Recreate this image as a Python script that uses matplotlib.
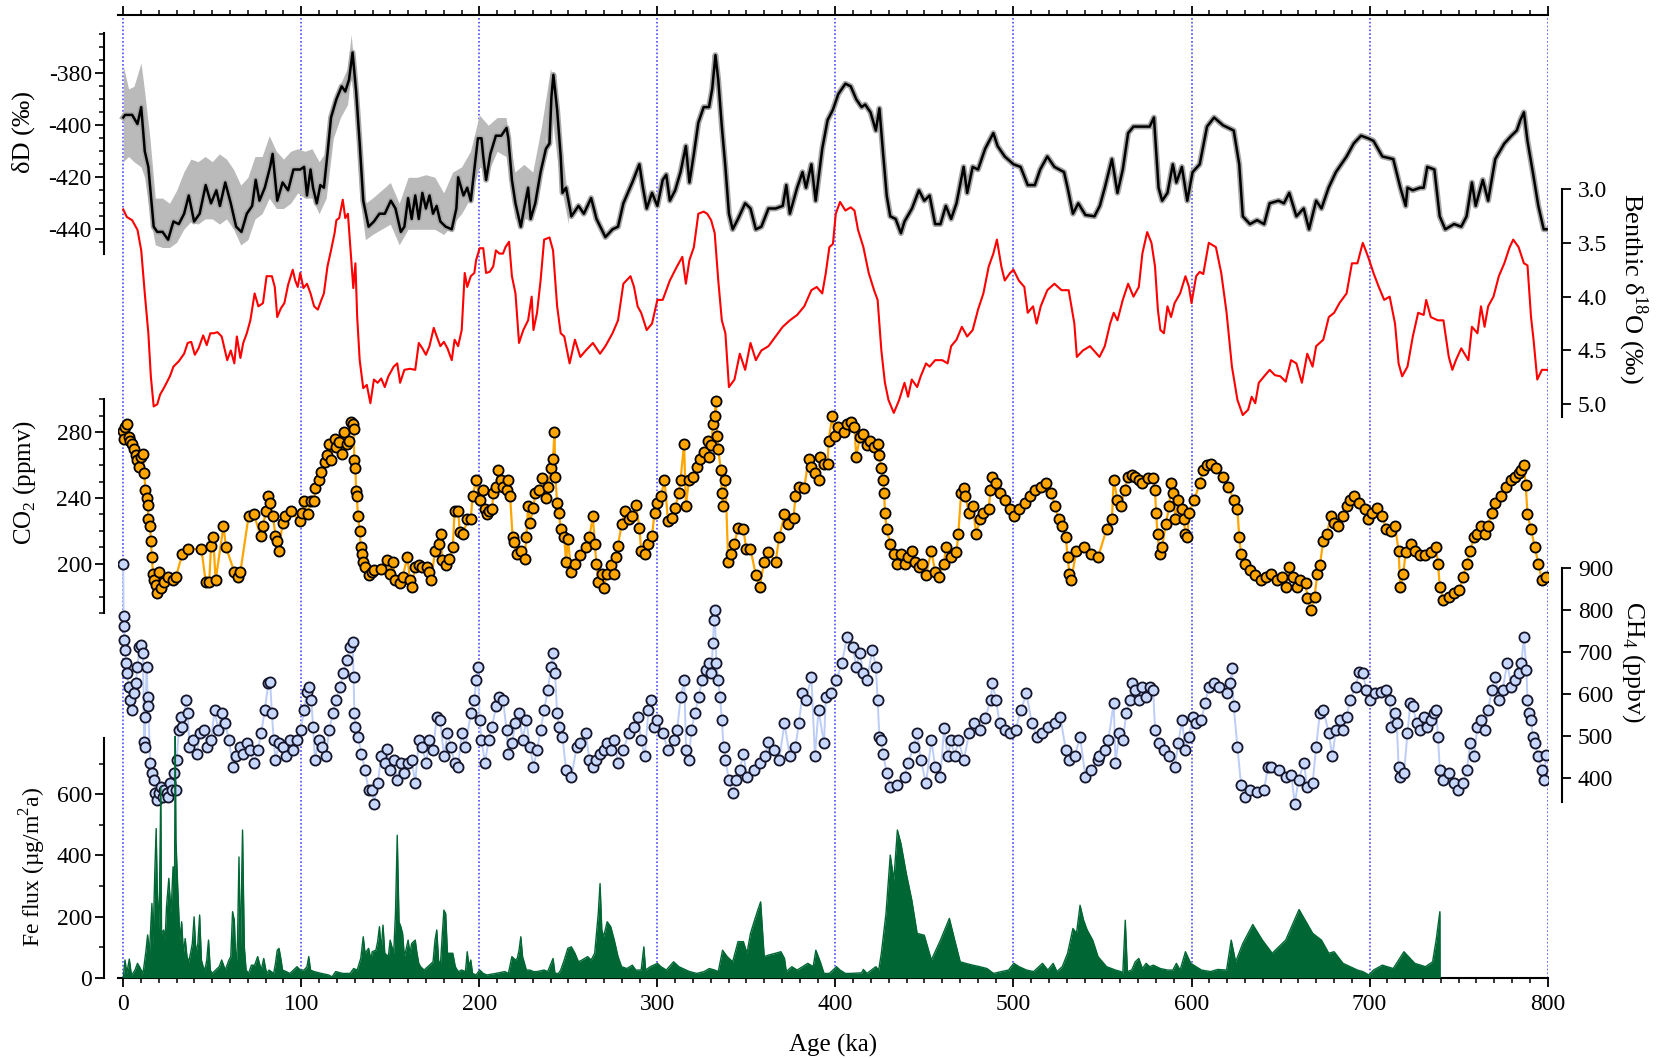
import numpy as np
import matplotlib.pyplot as plt

plt.rcParams['font.family'] = ['Liberation Serif', 'DejaVu Serif']
plt.rcParams['mathtext.fontset'] = 'custom'
plt.rcParams['mathtext.rm'] = 'Liberation Serif'
plt.rcParams['axes.unicode_minus'] = False

# ---- data (age in ka) ----
dD_smooth = [(0,-397),(1,-396),(5,-396),(8,-399.5),(10.1,-393),(12.1,-410),(14.1,-416),(17.1,-439),(19.1,-441),
    (22.1,-441),(25.2,-444),(28.2,-437),(31.2,-438),(34.2,-434),(36.8,-427),(39.8,-437),(42.9,-434),(46.3,-423),
    (49.3,-430),(52.3,-425),(54.3,-431),(57.3,-422),(60.4,-430),(63.4,-439),(66.4,-441),(69.4,-434),(72.4,-431),
    (74.4,-421),(76.5,-429),(79.5,-424),(82.5,-416),(83.9,-411),(86.5,-429),(89.5,-422),(92.6,-425),(95.6,-417),
    (99.4,-417),(101.6,-416),(103.2,-427),(105.2,-417),(106.6,-424),(108.7,-430),(110.7,-423),(112.7,-424),
    (114.7,-411),(116.7,-397),(119.7,-390),(122.7,-385),(124.7,-387),(126.8,-382.5),(128.8,-372),(130.8,-387),
    (132.8,-407),(134.8,-429),(137.8,-439),(140.8,-437),(143.9,-434),(146.9,-434),(150.3,-429),(152.9,-432),
    (155.9,-441),(157.9,-439),(160,-428),(162,-436),(164,-427),(166,-436),(168,-426),(170,-432),(172,-427),
    (174,-434),(176,-431),(178.1,-437),(181.1,-439),(184.5,-440),(187.1,-432),(188.1,-420),(191.1,-427),
    (193.2,-424),(195.2,-429),(197.2,-417),(199.2,-405),(201.2,-405),(202.2,-412),(203.8,-421),(206.2,-411),
    (209.3,-404),(212.3,-404),(214.3,-402),(215.3,-401),(216.3,-405),(218.3,-421),(220.3,-430),(223.3,-439),
    (225.4,-431),(227.4,-424),(228.8,-436),(231.4,-430),(234.4,-418),(237.4,-409),(239.4,-407),(240.5,-389),
    (241.6,-380.6),(243.7,-394),(245.7,-412),(246.7,-426),(248.7,-424),(251.7,-435),(255.7,-431),(258.7,-434),
    (262.8,-428),(265.8,-436),(270.8,-443),(274.8,-440),(277.9,-439),(280.9,-430),(285.9,-422),(289.9,-415),
    (291.9,-424),(294,-432),(297,-426),(300,-431),(303,-421),(305,-419),(307,-429),(310,-425),(313,-418),
    (316,-408),(318,-422),(320.5,-411),(323,-399),(326,-393),(329,-393),(330.8,-386),(332.6,-373),(334.2,-382.6),
    (336.2,-400.5),(338.2,-416),(340.2,-434),(342.3,-440),(345.3,-436),(349.3,-430),(352.3,-432),(355.3,-440),
    (358.4,-439),(362.4,-432),(366.4,-432),(370.4,-431),(372.4,-423),(374.4,-434),(378.5,-424),(381.5,-418),
    (383.5,-424),(386.5,-415),(388.9,-429),(392.6,-409),(395.6,-398),(398.6,-394),(401.6,-388),(405.6,-384),
    (408.6,-385),(411.7,-390),(414.7,-393),(416.7,-392),(419.7,-395),(422.7,-402),(424.7,-393.5),(426.8,-411),
    (428.8,-427),(430.8,-435),(433.8,-436),(436.8,-441.5),(438.8,-437),(443,-432),(446.9,-425),(449.9,-429),
    (452.9,-427),(456,-438),(459,-438),(462,-431),(465,-436),(468,-430),(472,-416),(474,-426),(477.1,-416),
    (480.1,-417),(484.1,-409),(488.7,-403),(491.1,-408),(495.1,-412),(500,-415),(504,-416),(508,-423),(512,-423),
    (515,-417),(519,-412),(523,-416),(528.4,-418),(530.4,-424),(533.4,-434),(536.4,-430),(540.4,-434.5),
    (545.5,-435),(548.5,-431),(551.3,-424),(555.3,-413),(558.4,-426),(561.4,-417),(564.4,-403),(567.4,-400.5),
    (572.4,-400.5),(576.5,-400.5),(578.9,-397),(581.5,-424),(583.5,-429),(586.5,-426),(589.5,-415),(591.5,-422),
    (594.6,-416),(597.6,-429),(600.6,-418),(604.6,-415),(608.7,-400.5),(612.7,-397),(617.7,-400),(623.7,-402),
    (626.8,-415),(628.8,-435),(632.8,-438),(636.8,-436.5),(640.8,-438),(643.9,-430),(648.9,-429),(651.9,-430),
    (654.9,-426),(658.9,-435),(663,-432),(666,-440),(670,-429),(673,-432),(677,-424),(681.1,-418),(687.1,-412),
    (691.1,-407),(695.2,-404),(699.2,-405),(702.2,-406),(707.2,-412),(713.3,-413),(717.3,-424),(720.3,-431),
    (721.3,-424),(724.3,-425),(728.4,-424),(730.4,-424),(732.4,-416),(736.4,-417),(739.4,-435),(742.5,-440),
    (747.5,-438),(751.5,-439),(754.5,-435),(757.5,-422),(759.6,-431),(763.6,-421),(766.6,-429),(770.6,-413),
    (775.7,-407),(779.7,-404),(782.7,-402),(784.7,-398),(786.7,-395),(788.7,-406),(791.7,-418),(794.8,-431),
    (797.8,-440),(800,-440)]

# raw dD spread (upper, lower), where it shows beyond the smoothed curve
dD_raw = [(0,-377,-414),(3,-386,-412),(6,-385,-414),(10,-376,-416),(12,-387,-420),(15,-405,-435),(18,-428,-446),
    (22,-428,-447),(26,-430,-447),(30,-425,-445),(34,-418,-440),(38,-413,-437),(42,-414,-438),(46,-412,-436),
    (50,-414,-436),(54,-411,-438),(58,-413,-436),(62,-417,-440),(66,-423,-446),(70,-420,-444),(74,-412,-436),
    (78,-412,-434),(82,-404,-428),(86,-410,-432),(90,-413,-432),(94,-410,-430),(98,-409,-426),(102,-410,-428),
    (106,-409,-428),(110,-414,-434),(114,-410,-428),(118,-392,-405),(122,-384,-397),(126,-378,-392),
    (128,-365,-380),(130,-380,-395),(133,-410,-428),(136,-430,-444),(140,-428,-442),(145,-425,-440),
    (150,-422,-438),(155,-430,-446),(160,-420,-440),(165,-420,-440),(170,-419,-440),(175,-420,-440),
    (180,-426,-442),(185,-418,-438),(190,-416,-434),(195,-410,-428),(200,-396,-416),(205,-400,-418),
    (210,-397,-410),(215,-397,-412),(220,-418,-436),(225,-415,-436),(230,-418,-436),(235,-400,-418),
    (240,-378,-392),(245,-400,-420),(250,-430,-438)]

benthic_d18O = [(0,3.19),(2,3.26),(5,3.29),(8,3.38),(10.1,3.57),(12.1,3.97),(14.1,4.34),(15.5,4.74),(17.1,5.02),
    (19.1,5.0),(20.7,4.91),(23.1,4.84),(26.2,4.74),(28.2,4.65),(31.2,4.60),(34.2,4.53),(36.2,4.43),(38.2,4.42),
    (40.2,4.54),(42.3,4.48),(44.9,4.36),(46.9,4.45),(48.9,4.34),(50.9,4.34),(52.9,4.33),(55.3,4.37),(58.4,4.59),
    (60.4,4.50),(62.4,4.62),(63.8,4.37),(65.8,4.57),(67.4,4.43),(69.4,4.34),(71.4,4.22),(73.8,3.97),(75.9,4.09),
    (78.5,4.06),(80.5,3.81),(83.5,3.81),(85.1,3.91),(86.5,4.19),(88.5,4.11),(90.5,4.06),(92.6,3.89),(95.2,3.75),
    (96.6,3.85),(98,3.91),(99.4,3.78),(101.2,3.92),(103.2,3.88),(105.2,3.97),(107.2,4.09),(109.3,4.12),
    (111.3,4.03),(112.7,3.97),(114.7,3.72),(116.7,3.57),(118.7,3.41),(119.7,3.29),(121.3,3.27),(123.3,3.10),
    (124.7,3.27),(126.2,3.23),(127.8,3.60),(129.2,3.92),(130.4,3.69),(131.4,4.19),(132.8,4.59),(134.8,4.85),
    (136.8,4.82),(138.8,4.99),(140.8,4.77),(142.9,4.80),(144.9,4.76),(146.9,4.84),(148.9,4.74),(151.9,4.65),
    (153.9,4.62),(155.5,4.80),(157.9,4.68),(161,4.67),(164,4.68),(166,4.43),(168,4.48),(170,4.54),(172,4.46),
    (174.4,4.29),(176.1,4.37),(178.1,4.46),(180.1,4.42),(182.1,4.48),(184.5,4.59),(186.1,4.40),(188.1,4.46),
    (190.1,4.31),(191.8,3.78),(193.2,3.91),(195.2,3.81),(197.2,3.78),(198.2,3.66),(200.2,3.55),(202.2,3.55),
    (203.8,3.78),(205.8,3.77),(207.8,3.72),(209.3,3.57),(211.3,3.60),(213.3,3.60),(214.7,3.54),(216.7,3.49),
    (218.3,3.81),(220.3,3.97),(222.3,4.43),(224.7,4.31),(227.4,4.22),(229.4,4.00),(230.4,4.31),(232.4,4.15),
    (234.4,3.85),(236.4,3.47),(239.4,3.45),(241.4,3.57),(243.7,4.09),(245.7,4.34),(247.7,4.37),(250.7,4.62),
    (253.7,4.40),(256.7,4.56),(259.8,4.50),(263.8,4.43),(267.8,4.53),(270.8,4.46),(274.8,4.34),(277.9,4.22),
    (280.9,3.88),(284.9,3.81),(286.9,3.91),(288.9,4.09),(290.9,4.15),(294,4.31),(297,4.25),(300,4.03),(303,4.03),
    (307,3.85),(311,3.72),(314,3.63),(316,3.88),(318,3.66),(320.5,3.54),(323,3.23),(326,3.21),(328,3.23),
    (330.2,3.29),(332.2,3.41),(334.2,3.85),(336.2,4.22),(338.2,4.34),(340.2,4.84),(343.3,4.77),(346.3,4.53),
    (349.3,4.68),(352.3,4.43),(355.3,4.59),(358.4,4.50),(362.4,4.46),(366.4,4.37),(370.4,4.28),(374.4,4.22),
    (378.5,4.17),(382.5,4.09),(386.5,3.94),(389.5,3.91),(392.6,3.97),(394.6,3.78),(396.6,3.54),(398.6,3.51),
    (400.2,3.23),(402.6,3.12),(405.6,3.20),(408.6,3.17),(410.7,3.20),(412.7,3.38),(415.7,3.54),(418.7,3.78),
    (421.7,3.94),(423.7,4.03),(425.8,4.50),(427.8,4.80),(429.8,4.96),(432.8,5.08),(435.8,4.96),(438.8,4.80),
    (440.8,4.93),(442.9,4.77),(445.9,4.84),(447.9,4.74),(450.9,4.62),(452.9,4.65),(456,4.59),(460,4.59),
    (463,4.62),(465,4.46),(468,4.40),(471,4.28),(474,4.37),(477.1,4.31),(480.1,4.12),(483.1,3.97),(486.1,3.72),
    (488.7,3.60),(490.7,3.47),(493.2,3.72),(495.1,3.85),(498.1,3.78),(500,3.75),(503,3.85),(506.1,3.91),
    (508,4.15),(511,4.09),(513,4.25),(515.3,4.09),(519,3.94),(523,3.88),(527,3.94),(531,3.94),(534.2,4.25),
    (535.6,4.56),(539,4.50),(543,4.46),(548.3,4.56),(551.3,4.46),(554.3,4.25),(556.3,4.15),(558.4,4.22),
    (561.4,4.03),(564.4,3.88),(567.4,4.00),(570.4,3.91),(572.4,3.60),(575.1,3.40),(577.5,3.50),(579.5,3.72),
    (581.1,4.12),(582.5,4.31),(584.5,4.34),(586.5,4.09),(588.5,4.19),(590.5,4.06),(593.6,3.97),(596.6,3.81),
    (598.6,3.91),(600,4.06),(602.6,3.81),(604.6,3.77),(606.6,3.79),(609.7,3.50),(613.7,3.54),(616.7,3.78),
    (619.7,4.15),(622.7,4.65),(625.8,4.96),(628.8,5.10),(631.8,5.05),(633.8,4.93),(635.8,4.99),(637.8,4.80),
    (640.8,4.74),(643.9,4.68),(646.9,4.73),(649.9,4.74),(652.9,4.79),(655.9,4.59),(658.9,4.62),(662,4.80),
    (665,4.53),(668,4.65),(670,4.46),(674,4.40),(677.1,4.19),(680.1,4.15),(683.1,4.06),(687.1,3.97),(690.1,3.69),
    (693.2,3.69),(696.2,3.50),(699.2,3.63),(702.2,3.78),(705.2,3.91),(708.2,4.03),(711.3,4.00),(714.3,4.25),
    (716.3,4.62),(718.3,4.74),(721.3,4.65),(724.3,4.37),(727.3,4.15),(730.4,4.17),(731.8,4.03),(734.4,4.19),
    (738.4,4.22),(741.5,4.22),(744.5,4.56),(746.5,4.68),(748.5,4.59),(751.5,4.48),(755.5,4.59),(757.5,4.28),
    (760.6,4.34),(762.6,4.09),(764.6,4.28),(766.6,4.09),(769.6,4.00),(772.6,3.81),(775.7,3.69),(778.7,3.54),
    (780.7,3.47),(783.7,3.54),(786.7,3.69),(788.7,3.71),(790.7,4.19),(792.1,4.40),(794.2,4.77),(796.8,4.68),
    (800,4.68)]

co2 = [(0,281),(0.3,276),(1,283),(2,285),(3,277),(4,275),(5,273),(6,270),(7,266),(8,263),(9.1,259),(10.1,265),
    (11.1,267),(11.7,255),(12.5,245),(13.1,240),(13.7,236),(14.1,227),(15.1,223),(15.5,214),(16.1,204),(16.7,194),
    (17.1,190),(18.5,187),(19.1,182),(20.1,195),(21.1,185),(22.7,189),(25.2,192),(28.2,190),(29.6,192),(33.2,206),
    (36.2,209),(43.9,209),(46.3,189),(48.3,189),(49.3,211),(50.5,216),(51.9,190),(56.3,223),(57.7,210),(62.4,195),
    (64.4,192),(65.8,195),(70.4,229),(73.4,230),(77.1,217),(78.5,223),(80.1,232),(81.5,241),(82.5,237),(84.1,229),
    (85.5,217),(86.5,214),(87.5,208),(89.5,225),(90.9,229),(94,232),(99.2,226),(100.6,231),(101.6,238),(103.6,230),
    (105.2,238),(107.2,238),(107.7,246),(109.7,251),(111.3,256),(113.3,262),(114.7,266),(115.7,273),(116.7,263),
    (118.7,276),(119.7,271),(121.3,274),(122.7,267),(124.1,280),(125.4,273),(126.8,275),(127.8,286),(128.8,285),
    (129.4,282),(129.8,263),(130.4,258),(130.8,244),(131.2,241),(131.8,229),(132.8,220),(133.4,210),(134.2,206),
    (134.8,201),(135.8,198),(137.8,193),(139.8,195),(140.8,196),(144.9,197),(147.9,202),(149.9,194),(151.5,201),
    (152.9,190),(155.5,188),(156.9,192),(159.6,204),(161,190),(162,186),(164,198),(166,199),(168,198),
    (170.4,198),(172,195),(173,190),(175.1,208),(177.1,212),(178.5,218),(179.1,202),(181.1,199),(183.1,203),
    (185.1,210),(186.1,232),(188.1,232),(189.1,219),(191.1,218),(193.2,227),(195.2,227),(196.2,241),(198.2,251),
    (200.2,239),(201.8,245),(203.2,233),(204.2,230),(205.2,232),(207.2,233),(207.8,243),(209.3,247),(210.7,257),
    (211.9,251),(213.3,247),(215.3,245),(216.3,251),(217.3,241),(218.7,216),(219.3,213),(221.3,206),(223.3,208),
    (225.4,203),(226.4,216),(227.4,235),(228.4,225),(230.4,234),(231.4,243),(233.4,245),(235.4,252),(237.4,240),
    (238.8,247),(240,258),(241.4,264),(242.2,280),(242.7,253),(243.7,237),(244.7,231),(245.7,221),(247.7,216),
    (248.7,201),(249.7,215),(251.7,195),(253.7,200),(256.7,205),(259.8,210),(261.8,216),(263.8,229),(264.8,212),
    (265.8,200),(266.8,189),(268.8,194),(269.8,185),(271.8,194),(273.8,199),(275.8,194),(276.8,204),(277.9,211),
    (279.9,224),(281.9,232),(283.9,227),(285.9,229),(287.9,236),(289.9,222),(290.9,208),(292.9,206),(295,212),
    (297,217),(298.4,231),(300,237),(302,241),(304,251),(306,226),(308,228),(310,234),(312,243),(313,251),
    (315,273),(316,235),(317.7,251),(320.1,253),(322.1,259),(324.1,264),(326.2,268),(328.2,275),(329.2,265),
    (330.2,272),(331.2,285),(332.2,290),(332.8,299),(333.6,278),(334.2,270),(335.6,257),(336.2,243),(336.6,235),
    (338.2,251),(339.8,201),(341.3,206),(343.3,212),(345.3,222),(348.3,221),(349.9,209),(352.3,209),(355.3,193),
    (357.4,186),(360,201),(362.4,207),(366.4,201),(368.4,216),(371.4,230),(373.4,224),(376.5,228),(377.5,241),
    (379.5,247),(382.5,246),(384.9,264),(386.5,259),(388.5,255),(390.5,251),(391.5,265),(393.6,261),(395.6,261),
    (396.2,275),(398.2,290),(399.6,278),(401.6,283),(404.6,280),(406.6,285),(408.6,286),(410.7,283),(411.7,265),
    (413.7,277),(415.7,279),(417.7,272),(419.7,275),(421.7,271),(423.7,273),(424.7,266),(425.8,258),(426.8,251),
    (427.4,243),(427.8,231),(428.8,221),(430.8,212),(432.8,206),(434.8,200),(436.8,206),(438.8,200),(440.8,204),
    (442.9,208),(444.9,201),(446.9,198),(448.9,200),(450.9,193),(453.9,208),(456,195),(458,192),(461,200),
    (462,210),(465,204),(468,207),(469,218),(470.6,243),(472,246),(473,241),(475,231),(477.1,235),(479.1,218),
    (481.1,227),(483.1,231),(486.1,233),(487.1,245),(488.1,253),(490.1,249),(492.2,243),(495.2,239),(498.2,233),
    (500.2,229),(503.2,233),(506.2,237),(509.3,241),(512.3,245),(515.3,247),(518.3,249),(521.3,243),(523.3,235),
    (525.4,227),(527.4,223),(529.4,216),(530.4,204),(531.4,194),(532.4,190),(535.4,208),(539.4,210),(543.5,206),
    (547.5,204),(552.3,221),(555.3,227),(556.3,251),(558.4,239),(560.4,235),(562.4,245),(564.4,253),(566.4,254),
    (568.4,253),(570.4,251),(572.4,249),(575.5,252),(578.5,252),(579.5,245),(580.1,231),(580.9,218),(582.1,206),
    (583.5,210),(585.5,224),(587.5,235),(588.5,249),(589.6,243),(591,227),(592.6,239),(594.6,233),(595.6,227),
    (596.6,218),(597.6,216),(598.6,231),(601.6,239),(604.6,249),(606.6,257),(608.7,260),(610.7,261),(613.7,258),
    (617.7,253),(620.7,247),(623.7,239),(625.8,233),(626.8,216),(627.8,206),(629.8,200),(632.8,196),(635.8,193),
    (638.8,190),(641.9,192),(644.9,194),(647.9,190),(650.9,192),(653,186),(655,198),(657,192),(659,186),
    (661.1,190),(664.1,188),(665.1,179),(667.1,172),(669.1,180),(670.7,194),(672.1,199),(674,214),(676.1,218),
    (678.1,229),(680.1,225),(682.1,223),(685.1,229),(687.1,235),(689.1,239),(691.5,241),(694.2,237),(697.2,233),
    (699.2,227),(701.2,231),(704.2,234),(707.2,229),(709.3,221),(712.3,220),(714.3,223),(716.3,208),(717.3,186),
    (718.9,194),(720.3,207),(723.3,212),(725.4,208),(728.4,205),(731.4,205),(734.4,207),(737.4,210),(738.4,200),
    (739.5,186),(741.5,178),(744.5,180),(747.5,182),(750.5,184),(752.6,192),(754.6,200),(756.6,208),(758.6,216),
    (760.6,218),(762.6,223),(764.6,218),(766.6,223),(768.6,231),(770.7,237),(773.7,241),(776.7,247),(779.7,251),
    (781.7,253),(783.7,255),(785.3,257),(786.7,260),(787.7,248),(788.7,230),(790.7,221),(792.8,210),(794.8,200),
    (796.8,190),(799.2,192)]

ch4 = [(0,911),(0.2,786),(0.4,763),(0.7,729),(1,706),(1.5,674),(2,650),(3,618),(4,587),(5,563),(6,602),(7,626),
    (8,666),(9.1,713),(10.1,717),(11.1,698),(11.7,487),(12.1,475),(12.5,547),(13.1,666),(13.7,594),(14.1,571),
    (15.1,436),(16.1,412),(17.1,396),(18.1,364),(19.1,348),(20.1,364),(21.1,380),(22.1,356),(23.1,372),(24.3,364),
    (25.2,356),(26.2,388),(27.5,372),(28.6,412),(29.6,372),(30,444),(31.2,515),(32.2,547),(33.2,523),(35.2,587),
    (36.2,555),(37.2,475),(39.2,491),(41.2,459),(43.3,507),(45.3,515),(47.3,475),(49.3,491),(51.3,563),(53.3,515),
    (55.3,555),(57.3,531),(59.4,491),(61.4,428),(63.4,452),(65.4,475),(67.4,459),(69.4,483),(71.4,467),(73.4,436),
    (75.5,467),(77.5,507),(79.5,563),(81.5,626),(82.5,630),(83.5,555),(84.5,491),(85.5,444),(87.5,483),(89.5,475),
    (91.5,452),(93.6,491),(95.6,467),(97.6,491),(99.6,515),(101.6,563),(103.2,606),(104.2,618),(105.6,587),
    (106.6,523),(107.7,444),(109.7,491),(111.7,475),(113.7,452),(115.7,515),(117.7,555),(119.7,587),(121.7,618),
    (123.7,650),(125.8,682),(127.4,713),(128.8,725),(129.4,642),(129.8,555),(130.4,523),(131.8,499),(133.8,459),
    (135.8,420),(137.8,372),(139.8,372),(140.8,340),(142.9,388),(144.9,452),(146.9,436),(147.9,469),(149.9,420),
    (151.9,444),(153.9,396),(155.9,436),(157.9,412),(160,436),(162,444),(164,388),(166,491),(168,475),(170,436),
    (172,491),(174,467),(176.1,547),(178.1,539),(180.1,452),(182.1,507),(184.1,475),(186.1,436),(188.1,428),
    (190.1,507),(192.2,475),(195.2,555),(197.2,587),(198.2,634),(199.2,666),(200.2,539),(201.2,491),(203.2,436),
    (205.2,491),(207.2,523),(209.3,571),(211.3,594),(213.3,587),(215.3,515),(216.3,459),(218.3,483),(220.3,531),
    (222.3,555),(224.3,491),(226.4,539),(228.4,475),(230.4,428),(232.4,467),(234.4,515),(236.4,563),(238.4,610),
    (240.4,666),(241.2,698),(242.5,650),(243.7,555),(244.7,523),(246.7,499),(248.7,420),(251.7,404),(254.7,475),
    (256.7,483),(259.8,507),(261.8,444),(263.8,428),(265.8,444),(267.8,459),(269.8,467),(271.8,483),(273.8,467),
    (275.8,491),(277.9,436),(280.9,467),(283.9,507),(286.9,523),(288.9,547),(290.9,491),(292.9,452),(295,563),
    (296.4,587),(298,523),(300,539),(303,507),(306,467),(309.1,491),(311.1,515),(313.1,594),(315.1,634),
    (316.1,467),(317.7,444),(319.1,515),(321.1,555),(323.1,594),(325.2,634),(327.2,658),(329.2,674),(330.2,650),
    (331.2,721),(331.8,777),(332.2,801),(333.2,674),(334.2,634),(335.2,594),(336.2,539),(337.2,475),(338.2,444),
    (340.2,396),(342.3,364),(344.3,396),(346.3,420),(348.3,459),(350.3,404),(354.3,420),(357.4,436),(360.4,452),
    (362.4,487),(365.4,467),(368.4,444),(371.4,531),(374.4,452),(377.5,475),(379.5,531),(381.5,602),(383.5,587),
    (386.5,642),(388.5,452),(390.5,563),(393.6,483),(394.6,594),(397.6,602),(400.6,634),(403.6,674),(406.6,737),
    (409.7,713),(411.7,666),(413.7,698),(415.7,650),(417.7,634),(420.7,706),(422.7,666),(423.7,587),(424.7,499),
    (425.7,491),(426.8,459),(428.8,412),(430.8,380),(434.8,384),(438.8,404),(440.8,436),(443.9,475),(445.9,507),
    (447.9,444),(450.9,388),(453.9,491),(456,428),(459,404),(461,519),(463,452),(465,491),(467,452),(469.1,491),
    (472.1,444),(475.1,507),(478.1,531),(481.1,515),(484.1,543),(487.2,587),(488.2,626),(490.2,587),(492.2,531),
    (495.2,515),(498.2,507),(501.2,515),(504.2,563),(507.3,602),(510.3,531),(513.3,499),(516.3,507),(519.3,523),
    (523.3,531),(526.3,547),(529.4,467),(531.4,444),(534.4,452),(537.4,499),(540.4,404),(543.5,420),(547.5,444),
    (548.3,452),(551.3,467),(553.3,491),(556.3,579),(557.3,436),(559.4,507),(561.4,491),(563.4,555),(565.4,587),
    (566.4,626),(568.4,610),(570.4,587),(572.4,618),(574.5,594),(576.5,618),(578.5,610),(579.5,515),(581.5,483),
    (584.5,467),(587.5,452),(590.5,428),(592.6,483),(594.6,539),(596.6,467),(598.6,499),(600.6,547),(602.6,531),
    (605.6,539),(607.6,579),(609.7,618),(612.7,626),(615.7,618),(619.7,602),(621.7,626),(622.7,662),(623.7,571),
    (625.8,475),(627.8,384),(629.8,356),(632.8,372),(636.8,368),(640.8,372),(642.9,428),(644.9,428),(648.9,420),
    (653,404),(656,408),(658,340),(660.1,396),(663.1,436),(665,380),(668,388),(670,475),(672.1,555),(674.1,563),
    (677.1,507),(679.1,452),(681.1,515),(683.2,539),(685.2,515),(687.1,547),(689.1,587),(692.2,618),(694.2,654),
    (696.2,650),(698.2,610),(700.2,587),(703.2,602),(706.3,606),(709.3,610),(711.3,587),(712.3,523),(714.3,555),
    (715.3,531),(716.3,428),(717.3,404),(719.3,412),(721.3,507),(722.9,579),(724.3,571),(726.4,531),(728.4,515),
    (730.4,547),(732.4,523),(734.4,539),(736.4,555),(737.4,563),(738.4,499),(739.5,420),(741.5,396),(744.5,412),
    (747.5,388),(749.5,372),(752.6,388),(754.6,420),(756.6,483),(758.6,452),(760.6,523),(762.6,539),(764.6,515),
    (766.6,563),(768.6,610),(770.7,642),(772.7,587),(774.7,610),(777.3,674),(779.7,618),(781.7,634),(783.7,650),
    (785.3,674),(786.7,737),(788.1,658),(788.7,587),(789.7,555),(790.7,539),(791.7,499),(792.8,483),(794.8,452),
    (796.8,420),(797.8,396),(799.2,456)]

fe_flux = [(0,0),(1,58),(2,14),(3.4,61),(4.6,9),(5.4,14),(6.6,25),(8,47),(9.1,36),(10.1,25),(11.1,14),(12.7,85),
    (13.7,140),(14.7,80),(16.1,243),(16.7,101),(17.7,341),(18.5,488),(19.1,286),(20.1,156),(21.1,624),(21.5,145),
    (22.7,156),(23.5,123),(24.3,232),(25.6,325),(26.8,210),(28,363),(28.8,300),(29.2,790),(29.6,450),(30.6,297),
    (31.8,123),(32.8,183),(33.8,80),(34.8,128),(35.8,69),(36.8,52),(37.8,80),(38.8,112),(39.8,199),(40.8,80),
    (41.9,112),(42.9,205),(43.9,58),(44.9,36),(45.9,25),(46.9,58),(47.9,123),(48.9,25),(49.9,14),(51.9,25),
    (53.9,36),(55.3,58),(57.3,25),(59.4,58),(60.4,69),(61.4,216),(62.4,188),(63.4,25),(64.2,123),(65,395),
    (65.8,80),(67,483),(68,101),(69,25),(70.4,14),(72,41),(73.8,41),(75.5,69),(77.5,25),(78.9,63),(80.5,14),
    (81.9,25),(84.5,14),(85.5,47),(86.5,90),(87.5,96),(88.5,63),(89.5,25),(91.5,20),(93.6,14),(95.6,25),
    (97.6,36),(99.4,25),(101.6,25),(103.2,36),(104.2,69),(105.2,25),(107.2,20),(111.3,14),(115.3,9),(117.3,3),
    (119.3,20),(123.3,14),(127.4,14),(129.4,30),(131.4,25),(133.4,63),(134.8,134),(135.8,80),(137.8,96),(139.2,58),
    (139.8,85),(141.9,90),(142.9,118),(143.9,167),(144.9,90),(145.9,172),(146.9,80),(148.9,69),(149.9,123),
    (151.9,80),(152.9,210),(153.9,466),(154.9,183),(155.9,167),(156.9,145),(157.9,69),(159,96),(160,123),(161,80),
    (162,112),(164,123),(165,80),(166,47),(167,36),(169,25),(171,36),(172,41),(174,52),(175.1,123),(176.1,156),
    (177.1,58),(178.1,36),(179.1,134),(180.1,221),(181.1,210),(182.1,80),(183.1,80),(185.1,80),(186.5,36),
    (188.1,20),(190.1,25),(192.2,20),(193.2,85),(194.2,36),(195.2,58),(196.2,14),(198.2,9),(200.2,25),(202.2,14),
    (204.2,9),(209.3,14),(214.3,20),(216.3,14),(218.3,69),(220.3,58),(221.3,63),(222.3,90),(223.3,134),
    (224.3,69),(226.4,25),(228.4,25),(230.4,20),(232.4,20),(236.4,25),(238.4,20),(241.4,63),(242.5,14),
    (244.5,14),(245.7,25),(247.7,58),(249.7,96),(251.7,101),(253.7,80),(255.7,52),(257.7,58),(260.8,69),
    (262.8,58),(264.8,80),(266.8,210),(267.8,308),(268.8,156),(269.8,134),(271.8,183),(273.8,167),(275.8,123),
    (277.9,69),(279.9,36),(282.9,30),(285.9,41),(287.9,25),(290.9,25),(292.4,101),(293.4,25),(296,36),(300,47),
    (302,36),(305,25),(309.1,52),(312.1,36),(316.1,25),(318.1,20),(322.1,14),(326.2,20),(329.2,30),(332.2,25),
    (334.2,20),(336.6,90),(339.2,69),(342.3,52),(345.3,118),(348.3,118),(350.3,80),(352.3,145),(354.3,183),
    (356.4,221),(358,248),(360,69),(362.4,74),(366.4,80),(369.4,85),(371.4,63),(372.4,20),(375.5,36),(378.5,25),
    (381.5,36),(384.5,47),(387.5,36),(389,90),(391.5,52),(393.6,14),(396.6,14),(400.6,36),(402.6,25),(405.6,14),
    (408.6,14),(414.7,16),(415.7,27),(417.7,14),(422.7,36),(424.3,25),(425.8,80),(428.4,210),(430.8,401),
    (432.8,319),(434.8,483),(436.8,439),(439.8,341),(442.9,254),(445.9,145),(449.9,139),(453.9,58),(459,123),
    (464,194),(467,123),(470.1,52),(473.1,47),(477.1,41),(481.1,36),(485.1,30),(488.8,14),(493.2,20),(497.2,25),
    (500.2,47),(503.2,36),(507.3,25),(511.3,20),(514.3,36),(516.3,47),(519.3,25),(522.3,47),(524.4,20),
    (527.4,36),(530.4,80),(533.4,161),(535.4,145),(537.4,237),(539.4,188),(541.4,156),(544.5,123),(547.5,69),
    (552.3,36),(557.3,25),(560.4,20),(561.4,14),(562.8,188),(564,20),(566.4,25),(568.4,52),(570.4,63),(572.4,30),
    (574.5,47),(576.5,36),(578.5,41),(582.5,30),(586.5,25),(589.5,25),(591.5,47),(593.6,25),(596.6,85),
    (599.6,47),(602.6,36),(605.6,25),(610.7,20),(614.7,27),(619.7,25),(622.3,123),(624.8,52),(628.8,112),
    (634.4,174),(639.8,123),(645.3,80),(652.9,123),(660.4,223),(668.1,145),(673,123),(677.1,80),(680.1,85),
    (685.1,47),(689.1,36),(693.2,25),(696.2,20),(699.6,9),(702.2,25),(707.2,41),(713.3,30),(719.3,85),(725.4,47),
    (731.4,36),(735.4,52),(737.4,123),(739.5,216),(739.6,0)]

# ---- figure geometry (pixels) ----
W, H = 1661, 1058
x0_px, x1_px = 117.9, 1547.6
top_px, bot_px = 14.7, 977.7
rect = [x0_px / W, 1 - bot_px / H, (x1_px - x0_px) / W, (bot_px - top_px) / H]
TICK_FS = 17

fig = plt.figure(figsize=(W / 100, H / 100), dpi=100)

base = fig.add_axes(rect)
base.set_xlim(-3, 800)
base.set_ylim(0, 1)
base.set_yticks([])
for s in ['left', 'right']:
    base.spines[s].set_visible(False)
for s in ['top', 'bottom']:
    base.spines[s].set_linewidth(1.5)
base.set_xticks(np.arange(0, 801, 100))
base.set_xticks(np.arange(0, 801, 10), minor=True)
base.tick_params(axis='x', which='both', direction='out', top=True, bottom=True, labelsize=TICK_FS, pad=5)
base.tick_params(axis='x', which='major', length=6.5, width=1.3)
base.tick_params(axis='x', which='minor', length=3.5, width=1.1)
for v in range(0, 801, 100):
    base.axvline(v, color='#4d4dff', ls=(0, (1, 1.3)), lw=1.2, zorder=0)


def panel(v1, p1, v2, p2, side, lo, hi):
    # one y scale laid over the shared frame
    ax = fig.add_axes(rect, sharex=base)
    ax.patch.set_visible(False)
    k = (v2 - v1) / (p2 - p1)
    ax.set_ylim(v1 + (bot_px - p1) * k, v1 + (top_px - p1) * k)
    for s in ['top', 'bottom', 'left', 'right']:
        ax.spines[s].set_visible(s == side)
    ax.spines[side].set_position(('outward', 10.3))
    ax.spines[side].set_linewidth(1.5)
    ax.spines[side].set_bounds(lo, hi)
    ax.yaxis.set_ticks_position(side)
    ax.tick_params(axis='x', which='both', bottom=False, top=False, labelbottom=False)
    ax.tick_params(axis='y', which='both', direction='out', labelsize=TICK_FS,
                   pad=2 if side == 'left' else 5)
    ax.tick_params(axis='y', which='major', length=6.5, width=1.3)
    ax.tick_params(axis='y', which='minor', length=3.5, width=1.1)
    return ax


# dD
a, v = np.array(dD_smooth).T
r = np.array(dD_raw)
ax1 = panel(-380, 73.3, -440, 229.3, 'left', -449.6, -364.6)
ax1.fill_between(r[:, 0], r[:, 2], r[:, 1], color='#bababa', lw=0)
ax1.plot(a, v, color='#a8a8a8', lw=4.2, solid_joinstyle='round')
ax1.plot(a, v, color='black', lw=1.8)
ax1.set_yticks([-440, -420, -400, -380])
ax1.set_yticks(np.arange(-445, -364, 5), minor=True)

# benthic d18O
a, v = np.array(benthic_d18O).T
ax2 = panel(3.0, 189, 5.0, 404.3, 'right', 3.0, 5.115)
ax2.plot(a, v, color='#ff0000', lw=1.5)
ax2.set_yticks([3.0, 3.5, 4.0, 4.5, 5.0])
ax2.set_yticklabels(['3.0', '3.5', '4.0', '4.5', '5.0'])

# CO2
a, v = np.array(co2).T
ax3 = panel(280, 432.3, 200, 563.7, 'left', 170, 300)
ax3.plot(a, v, color='#ffa500', lw=1.6, marker='o', ms=7.3, mfc='#ffa500', mec='black', mew=1.3)
ax3.set_yticks([200, 240, 280])
ax3.set_yticks(np.arange(170, 301, 10), minor=True)

# CH4
a, v = np.array(ch4).T
ax4 = panel(900, 568.3, 400, 778.3, 'right', 343, 900)
ax4.plot(a, v, color='#bccdf7', lw=1.4, marker='o', ms=7.3, mfc='#c8d7fc', mec='#15152a', mew=1.3)
ax4.set_yticks(np.arange(400, 901, 100))

# Fe flux
a, v = np.array(fe_flux).T
ax5 = panel(0, 977.7, 600, 794.3, 'left', 0, 785)
ax5.fill_between(a, 0, v, color='#006633', lw=0)
ax5.plot(a, v, color='#006633', lw=1.0)
ax5.set_yticks([0, 200, 400, 600])
ax5.set_yticks([100, 300, 500, 700], minor=True)

# axis labels
lab = dict(ha='center', va='center')
fig.text(23 / W, 1 - 132 / H, 'δD (‰)', rotation=90, fontsize=19, **lab)
fig.text(25 / W, 1 - 482 / H, 'CO$_2$ (ppmv)', rotation=90, fontsize=18, **lab)
fig.text(32.5 / W, 1 - 867 / H, 'Fe flux (µg/m$^2$a)', rotation=90, fontsize=17, **lab)
fig.text(1633 / W, 1 - 288 / H, 'Benthic δ$^{18}$O (‰)', rotation=270, fontsize=19, **lab)
fig.text(1633 / W, 1 - 662 / H, 'CH$_4$ (ppbv)', rotation=270, fontsize=18.5, **lab)
fig.text(833 / W, 1 - 1045 / H, 'Age (ka)', fontsize=18, **lab)

fig.savefig('out.png', dpi=100)
